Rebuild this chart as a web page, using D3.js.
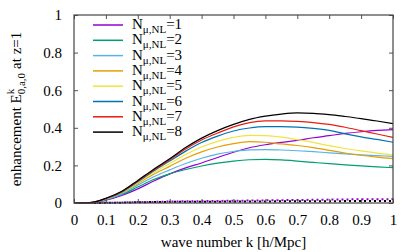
<!DOCTYPE html>
<html>
<head>
<style>
  body { margin: 0; background: #fff; }
  svg { display: block; }
</style>
<script src="https://d3js.org/d3.v7.min.js"></script>
</head>
<body>
<script>
// wave numbers k [h/Mpc]
var kValues = [0, 0.05, 0.1, 0.15, 0.2, 0.25, 0.3, 0.35, 0.4, 0.45, 0.5, 0.55, 0.6, 0.65, 0.7, 0.75, 0.8, 0.85, 0.9, 0.95, 1.0];

// enhancement for N_mu,NL = 1..8 (solid lines)
var n1 = [0, 0.001, 0.015, 0.04, 0.075, 0.117, 0.155, 0.187, 0.213, 0.242, 0.27, 0.294, 0.31, 0.322, 0.333, 0.347, 0.358, 0.37, 0.379, 0.386, 0.39];
var n2 = [0, 0.002, 0.017, 0.045, 0.085, 0.125, 0.155, 0.178, 0.197, 0.212, 0.223, 0.23, 0.232, 0.229, 0.223, 0.216, 0.209, 0.203, 0.197, 0.192, 0.188];
var n3 = [0, 0.002, 0.019, 0.05, 0.095, 0.14, 0.176, 0.21, 0.238, 0.26, 0.274, 0.283, 0.284, 0.282, 0.278, 0.273, 0.267, 0.261, 0.256, 0.252, 0.248];
var n4 = [0, 0.002, 0.021, 0.055, 0.103, 0.153, 0.195, 0.238, 0.272, 0.298, 0.316, 0.326, 0.323, 0.314, 0.306, 0.295, 0.28, 0.266, 0.254, 0.244, 0.236];
var n5 = [0, 0.002, 0.022, 0.056, 0.108, 0.162, 0.21, 0.258, 0.298, 0.328, 0.349, 0.36, 0.358, 0.35, 0.337, 0.322, 0.305, 0.29, 0.277, 0.265, 0.255];
var n6 = [0, 0.002, 0.023, 0.058, 0.113, 0.17, 0.223, 0.276, 0.322, 0.356, 0.383, 0.399, 0.406, 0.406, 0.404, 0.397, 0.386, 0.368, 0.352, 0.338, 0.323];
var n7 = [0, 0.002, 0.024, 0.06, 0.117, 0.176, 0.23, 0.287, 0.335, 0.372, 0.405, 0.428, 0.437, 0.437, 0.434, 0.428, 0.418, 0.403, 0.385, 0.367, 0.349];
var n8 = [0, 0.002, 0.025, 0.062, 0.12, 0.18, 0.235, 0.295, 0.345, 0.385, 0.418, 0.445, 0.462, 0.473, 0.479, 0.477, 0.47, 0.46, 0.449, 0.436, 0.422];

// small dotted curves near zero
var dotN1 = [0, 0, 0.001, 0.003, 0.005, 0.006, 0.008, 0.009, 0.01, 0.011, 0.012, 0.013, 0.014, 0.015, 0.016, 0.017, 0.018, 0.019, 0.02, 0.02, 0.021];
var dotN8 = [0, 0, 0.001, 0.002, 0.004, 0.005, 0.006, 0.006, 0.007, 0.007, 0.008, 0.008, 0.008, 0.009, 0.009, 0.009, 0.009, 0.01, 0.01, 0.01, 0.01];

var seriesLabels = ["1", "2", "3", "4", "5", "6", "7", "8"];
var seriesColors = ["#9400d3", "#009e73", "#56b4e9", "#e69f00", "#f0e442", "#0072b2", "#e51e10", "#000000"];
var xTicks = [0, 0.1, 0.2, 0.3, 0.4, 0.5, 0.6, 0.7, 0.8, 0.9, 1];
var yTicks = [0, 0.2, 0.4, 0.6, 0.8, 1];

var series = [n1, n2, n3, n4, n5, n6, n7, n8];

var width = 420, height = 252;
var margin = {top: 15, right: 27, bottom: 49, left: 74};
var w = width - margin.left - margin.right,
    h = height - margin.top - margin.bottom;
var serif = "'Liberation Serif'";

var svg = d3.select("body").append("svg")
  .attr("width", width)
  .attr("height", height);

var g = svg.append("g")
  .attr("transform", "translate(" + margin.left + "," + margin.top + ")");

var x = d3.scaleLinear().domain([0, 1]).range([0, w]);
var y = d3.scaleLinear().domain([0, 1]).range([h, 0]);

var line = d3.line()
  .x(function(d, i) { return x(kValues[i]); })
  .y(function(d) { return y(d); })
  .curve(d3.curveMonotoneX);

// dotted lines
[[dotN8, "#000"], [dotN1, "#9400d3"]].forEach(function(p, j) {
  g.append("path")
    .attr("d", line(p[0]))
    .attr("fill", "none")
    .attr("stroke", p[1])
    .attr("stroke-width", 2)
    .attr("stroke-dasharray", "2,3")
    .attr("stroke-dashoffset", j * 2.5);
});

// solid lines
series.forEach(function(s, i) {
  g.append("path")
    .attr("d", line(s))
    .attr("fill", "none")
    .attr("stroke", seriesColors[i])
    .attr("stroke-width", 1.2);
});

// axes (ticks inward, mirrored)
var tickLen = 4;
var fontSize = 15;
var bottomAxis = g.append("g").attr("transform", "translate(0," + h + ")")
  .call(d3.axisBottom(x).tickValues(xTicks).tickSizeInner(-tickLen).tickSizeOuter(0).tickPadding(11)
    .tickFormat(function(d) { return d3.format("")(d); }));
var topAxis = g.append("g")
  .call(d3.axisTop(x).tickValues(xTicks).tickSizeInner(-tickLen).tickSizeOuter(0).tickFormat(""));
var leftAxis = g.append("g")
  .call(d3.axisLeft(y).tickValues(yTicks).tickSizeInner(-tickLen).tickSizeOuter(0).tickPadding(12)
    .tickFormat(function(d) { return d3.format("")(d); }));
var rightAxis = g.append("g").attr("transform", "translate(" + w + ",0)")
  .call(d3.axisRight(y).tickValues(yTicks).tickSizeInner(-tickLen).tickSizeOuter(0).tickFormat(""));

[bottomAxis, topAxis, leftAxis, rightAxis].forEach(function(a) {
  a.attr("font-family", null).attr("font-size", null);
  a.select(".domain").remove();
  a.selectAll("line").attr("stroke", "#555");
  a.selectAll("text").style("font-family", serif).style("font-size", fontSize + "px").attr("fill", "#000");
});

g.append("rect")
  .attr("width", w).attr("height", h)
  .attr("fill", "none").attr("stroke", "#444").attr("stroke-width", 1.2);

// x label
svg.append("text")
  .attr("x", margin.left + w / 2)
  .attr("y", 247)
  .attr("text-anchor", "middle")
  .style("font-family", serif)
  .style("font-size", fontSize + "px")
  .text("wave number k [h/Mpc]");

// helper: text with stacked super/subscript
function richText(parent, parts) {
  var cx = 0;
  parts.forEach(function(p) {
    var items = p.stack || [{text: p.text, size: p.size, dy: 0}];
    var widths = items.map(function(q) {
      var t = parent.append("text")
        .attr("x", cx).attr("y", q.dy)
        .style("font-family", serif)
        .style("font-size", q.size + "px")
        .text(q.text);
      return t.node().getComputedTextLength();
    });
    cx += d3.max(widths) + (p.gap || 0);
  });
  return cx;
}

// y label
var yl = svg.append("g").attr("transform", "translate(21," + (margin.top + h / 2) + ") rotate(-90)");
var ylInner = yl.append("g");
var ylWidth = richText(ylInner, [
  {text: "enhancement E", size: fontSize},
  {stack: [{text: "k", size: 11, dy: -7}, {text: "0,a,0", size: 11, dy: 4}], gap: 4},
  {text: "at z=1", size: fontSize}
]);
ylInner.attr("transform", "translate(" + (-ylWidth / 2) + ",0)");

// legend
var legend = svg.append("g").attr("transform", "translate(93,25)");
seriesLabels.forEach(function(lab, i) {
  var row = legend.append("g").attr("transform", "translate(0," + (i * 15.3) + ")");
  row.append("line")
    .attr("x1", 0).attr("x2", 30)
    .attr("stroke", seriesColors[i]).attr("stroke-width", 1.5);
  var tg = row.append("g").attr("transform", "translate(39,4)");
  richText(tg, [
    {text: "N", size: fontSize},
    {stack: [{text: "\u03bc,NL", size: 11, dy: 4}]},
    {text: "=" + lab, size: fontSize}
  ]);
});
</script>
</body>
</html>
